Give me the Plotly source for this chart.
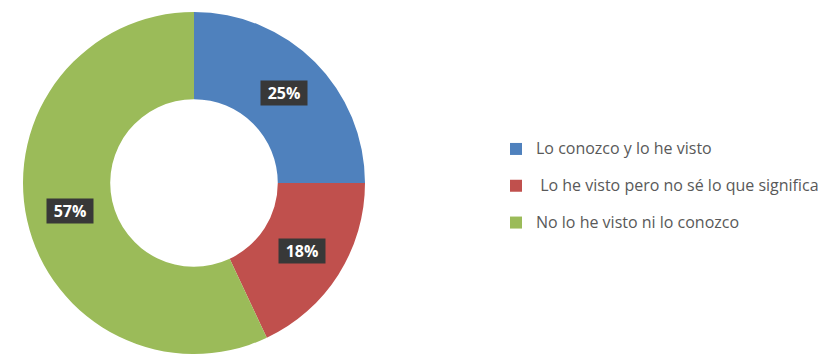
import math
import plotly.graph_objects as go

# ---- data ----
categories = ["Lo conozco y lo he visto", " Lo he visto pero no sé lo que significa", "No lo he visto ni lo conozco"]
values = [25, 18, 57]
colors = ["#4F81BD", "#C0504D", "#9BBB59"]

W, H = 819, 355
# pie domain in pixels
dom_x = (22, 366)
dom_y_top, dom_y_bot = 12, 354
hole = 0.49

legend_labels = ['<span style="font-size:16px">%s</span><br> ' % c for c in categories]

fig = go.Figure()
fig.add_trace(go.Pie(
    labels=legend_labels,
    values=values,
    marker=dict(colors=colors, line=dict(width=0)),
    hole=hole,
    sort=False,
    direction="clockwise",
    rotation=0,
    textinfo="none",
    hoverinfo="label+percent",
    domain=dict(x=[dom_x[0] / W, dom_x[1] / W],
                y=[(H - dom_y_bot) / H, (H - dom_y_top) / H]),
))

# label boxes positioned from the data (mid-angle of each slice, mid-ring radius)
R = min(dom_x[1] - dom_x[0], dom_y_bot - dom_y_top) / 2
cx = (dom_x[0] + dom_x[1]) / 2
cy = (dom_y_top + dom_y_bot) / 2
r_lab = R * (1 + hole) / 2
total = sum(values)
cum = 0
for v in values:
    mid = (cum + v / 2) / total * 2 * math.pi
    cum += v
    px = cx + r_lab * math.sin(mid)
    py = cy - r_lab * math.cos(mid)
    fig.add_annotation(
        x=px / W, y=(H - py) / H, xref="paper", yref="paper",
        text="<b>%d%%</b>" % round(v / total * 100),
        showarrow=False,
        font=dict(family="Open Sans, sans-serif", size=16, color="white"),
        bgcolor="#383838", borderpad=3, width=40, height=18,
        xanchor="center", yanchor="middle",
    )

fig.update_layout(
    width=W, height=H,
    margin=dict(l=0, r=0, t=0, b=0, autoexpand=False),
    paper_bgcolor="white", plot_bgcolor="white",
    showlegend=True,
    legend=dict(
        x=496 / W, y=(H - 134) / H, xanchor="left", yanchor="top",
        font=dict(family="Open Sans, sans-serif", size=13, color="#595959"),
        valign="top", bgcolor="rgba(0,0,0,0)",
    ),
)

fig.write_html("out.html")
